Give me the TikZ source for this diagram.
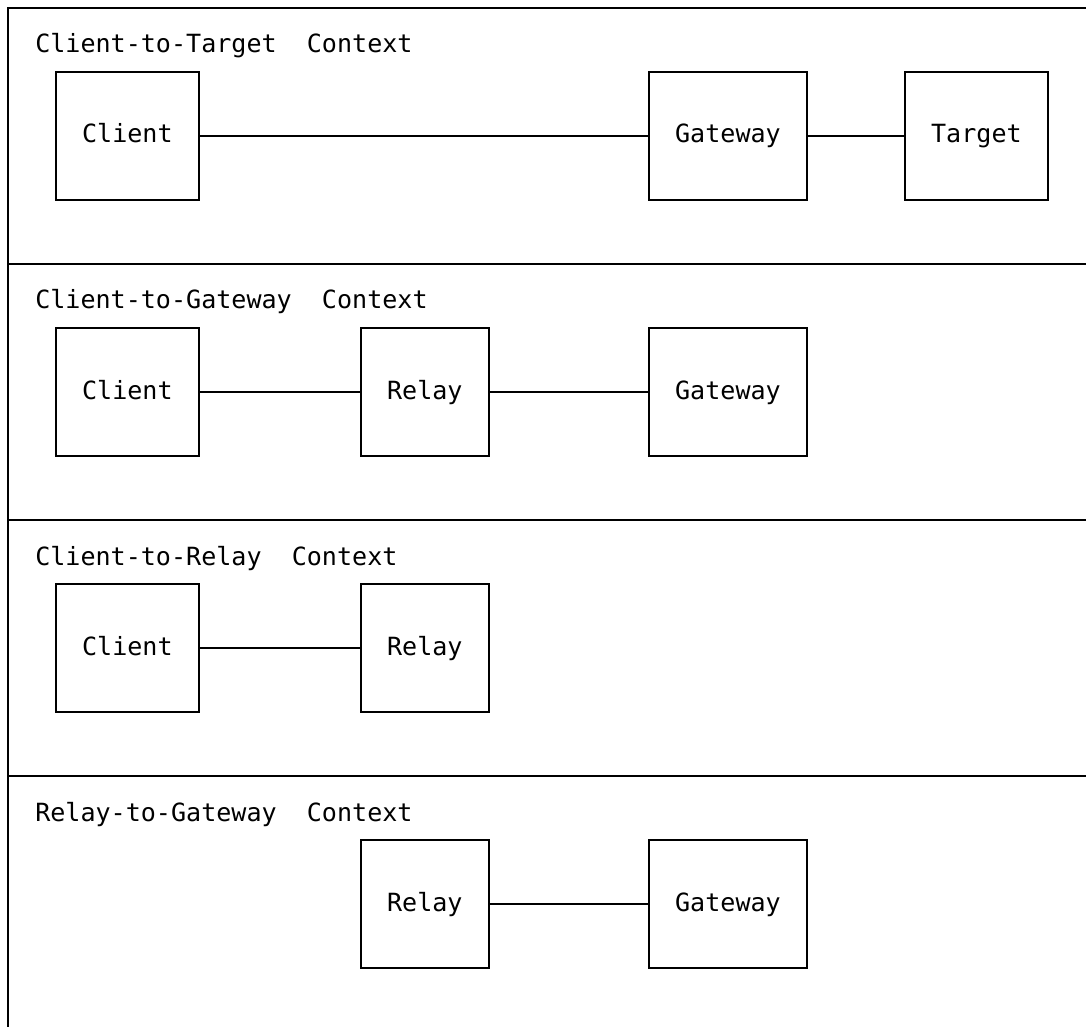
\documentclass[tikz,border=0pt]{standalone}
\usepackage{fontspec}
\setmonofont{DejaVu Sans Mono}
\usepackage{tikz}
\usetikzlibrary{positioning}
\tikzset{
  ctxbox/.style={draw, line width=1.5pt, inner xsep=19.6pt, inner ysep=0pt,
    text height=14pt, text depth=3.5pt, minimum height=96pt, anchor=west},
  ctxtitle/.style={anchor=base west, inner sep=0pt},
  ctxline/.style={line width=1.5pt},
}

\begin{document}
\begin{tikzpicture}[x=0.75pt, y=-0.75pt, font=\ttfamily\fontsize{18.8}{22}\selectfont]
        \useasboundingbox (0,0) rectangle (1086,1027);
        % Cadre et séparateurs
        \draw[ctxline] (8,1027) -- (8,8) -- (1086,8);
        \draw[ctxline] (8,264) -- (1086,264);
        \draw[ctxline] (8,520) -- (1086,520);
        \draw[ctxline] (8,776) -- (1086,776);
        % Client-to-Target
        \node[ctxtitle] (title_ct) at (35,53) {Client-to-Target\ \ Context};
        \node[ctxbox] (ct_client)  at (55,136)  {Client};
        \node[ctxbox] (ct_gateway) at (648,136) {Gateway};
        \node[ctxbox] (ct_target)  at (904,136) {Target};
        \draw[ctxline] (ct_client) -- (ct_gateway);
        \draw[ctxline] (ct_gateway) -- (ct_target);
        % Client-to-Gateway
        \node[ctxtitle] (title_cg) at (35,309) {Client-to-Gateway\ \ Context};
        \node[ctxbox] (cg_client)  at (55,392)  {Client};
        \node[ctxbox] (cg_relay)   at (360,392) {Relay};
        \node[ctxbox] (cg_gateway) at (648,392) {Gateway};
        \draw[ctxline] (cg_client) -- (cg_relay);
        \draw[ctxline] (cg_relay) -- (cg_gateway);
        % Client-to-Relay
        \node[ctxtitle] (title_cr) at (35,565) {Client-to-Relay\ \ Context};
        \node[ctxbox] (cr_client)  at (55,648)  {Client};
        \node[ctxbox] (cr_relay)   at (360,648) {Relay};
        \draw[ctxline] (cr_client) -- (cr_relay);
        % Relay-to-Gateway
        \node[ctxtitle] (title_rg) at (35,821) {Relay-to-Gateway\ \ Context};
        \node[ctxbox] (rg_relay)   at (360,904) {Relay};
        \node[ctxbox] (rg_gateway) at (648,904) {Gateway};
        \draw[ctxline] (rg_relay) -- (rg_gateway);
      \end{tikzpicture}
\end{document}
